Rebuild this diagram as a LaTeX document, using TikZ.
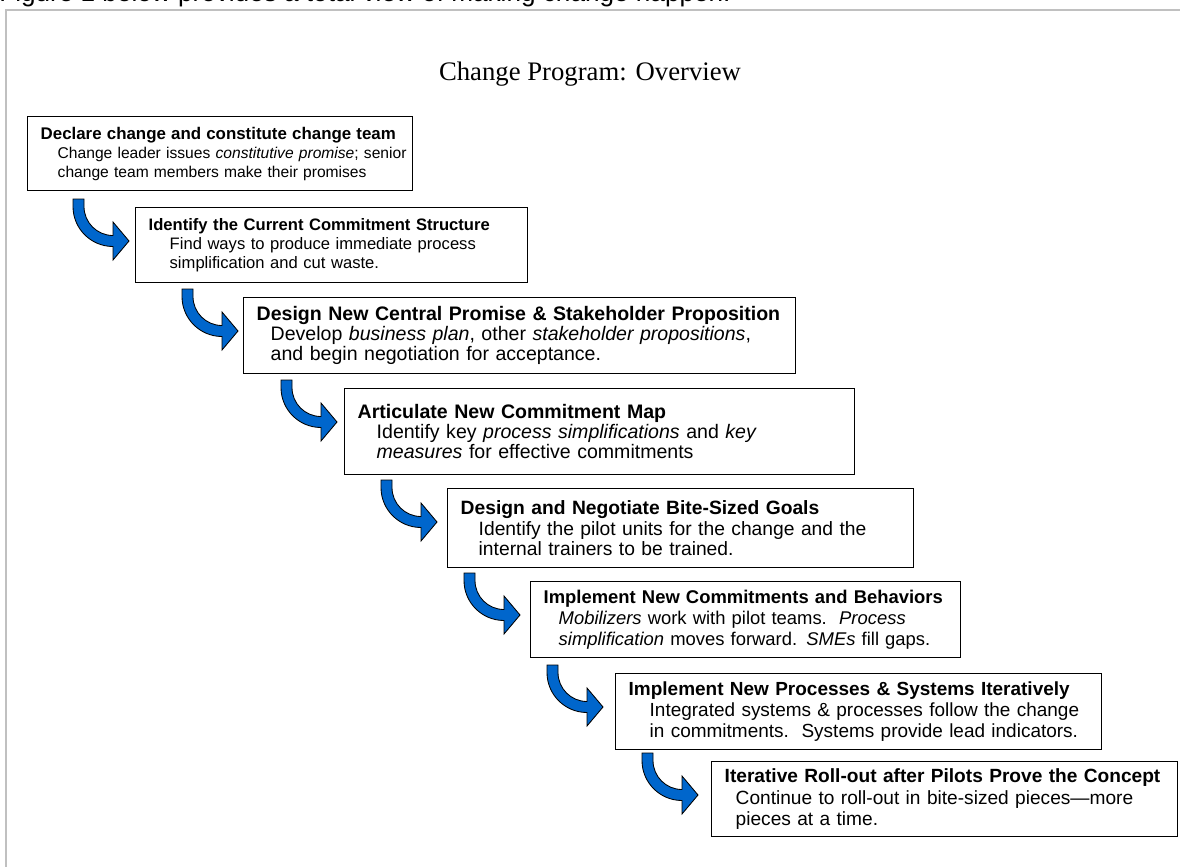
\documentclass[tikz,border=0pt]{standalone}
\usepackage{fontspec}
\setmainfont{Liberation Sans}
\newfontfamily\titlefont{Liberation Serif}
\usepackage{tikz}
\usetikzlibrary{calc}
\newlength{\pix}
\setlength{\pix}{0.025cm}
\definecolor{arrowblue}{RGB}{0,102,204}
\definecolor{framegray}{RGB}{192,192,192}
\newcommand{\indentby}[1]{\hspace*{#1\pix}}
\newcommand{\boxfont}[2]{\fontsize{#1}{#2}\selectfont}

\tikzset{
  stagebox/.style={draw, line width=1pt, anchor=north west, align=left,
    inner xsep=13\pix, inner ysep=0pt},
  bendarrow/.pic={
    \filldraw[fill=arrowblue, draw=black, line width=0.6pt]
      (-56,-42) -- (-56,-34.5) .. controls (-56,-12.4) and (-38.1,5.5) .. (-16,5.5)
      -- (-16,19) -- (0,0) -- (-16,-19) -- (-16,-5.5)
      .. controls (-32,-5.5) and (-45,-18.5) .. (-45,-34.5) -- (-45,-42) -- cycle;
  }
}

\begin{document}
\begin{tikzpicture}[x=\pix, y=-\pix]
\useasboundingbox (0,0) rectangle (1180,867);
\clip (0,0) rectangle (1180,867);
% page frame and running text
\draw[framegray, line width=2\pix] (6,900) -- (6,10) -- (1200,10);
\node[anchor=base west, inner sep=0pt, font=\boxfont{18.6}{20}] (intro) at (-1,2)
  {Figure 1 below provides a total view of making change happen.};
\node[anchor=base, inner sep=0pt, font=\titlefont\boxfont{19}{22}] (title) at (590,81)
  {Change Program: Overview};

% stages of the program
\node[stagebox, text width=359\pix, minimum height=74\pix, font=\boxfont{11.1}{13.5}] (s1) at (27,116)
  {{\boxfont{12}{13.5}\bfseries Declare change and constitute change team}\\
   \indentby{17}\mbox{Change leader issues \textit{constitutive promise}; senior}\\
   \indentby{17}\mbox{change team members make their promises}};
\node[stagebox, text width=366\pix, minimum height=75\pix, font=\boxfont{11.8}{13.8}] (s2) at (135,207)
  {\textbf{Identify the Current Commitment Structure}\\
   \indentby{21}\mbox{Find ways to produce immediate process}\\
   \indentby{21}\mbox{simplification and cut waste.}};
\node[stagebox, text width=526\pix, minimum height=76\pix, font=\boxfont{13.9}{14.2}] (s3) at (243,297)
  {\textbf{Design New Central Promise \& Stakeholder Proposition}\\
   \indentby{14}\mbox{Develop \textit{business plan}, other \textit{stakeholder propositions},}\\
   \indentby{14}\mbox{and begin negotiation for acceptance.}};
\node[stagebox, text width=484\pix, minimum height=86\pix, font=\boxfont{13.9}{14.2}] (s4) at (344,388)
  {\textbf{Articulate New Commitment Map}\\
   \indentby{19}\mbox{Identify key \textit{process simplifications} and \textit{key}}\\
   \indentby{19}\mbox{\textit{measures} for effective commitments}};
\node[stagebox, text width=440\pix, minimum height=79\pix, font=\boxfont{13.7}{14.5}] (s5) at (447,488)
  {\textbf{Design and Negotiate Bite-Sized Goals}\\
   \indentby{18}\mbox{Identify the pilot units for the change and the}\\
   \indentby{18}\mbox{internal trainers to be trained.}};
\node[stagebox, text width=404\pix, minimum height=76\pix, font=\boxfont{13.1}{14.9}] (s6) at (530,581)
  {\textbf{Implement New Commitments and Behaviors}\\
   \indentby{15}\mbox{\textit{Mobilizers} work with pilot teams.\ \ \textit{Process}}\\
   \indentby{15}\mbox{\textit{simplification} moves forward. \textit{SMEs} fill gaps.}};
\node[stagebox, text width=460\pix, minimum height=76\pix, font=\boxfont{13.5}{15.2}] (s7) at (615,673)
  {\textbf{Implement New Processes \& Systems Iteratively}\\
   \indentby{21}\mbox{Integrated systems \& processes follow the change}\\
   \indentby{21}\mbox{in commitments.\ \ Systems provide lead indicators.}};
\node[stagebox, text width=440\pix, minimum height=75\pix, font=\boxfont{13.6}{15.2}] (s8) at (711,761)
  {\mbox{\bfseries Iterative Roll-out after Pilots Prove the Concept}\\
   \indentby{11}\mbox{Continue to roll-out in bite-sized pieces\textemdash more}\\
   \indentby{11}\mbox{pieces at a time.}};

% bent arrows leading into each stage
\foreach \nxt/\off in {s2/6, s3/5, s4/7, s5/10, s6/10, s7/12, s8/13}
  \pic at ($(\nxt.north west)+(-\off,34)$) {bendarrow};
\end{tikzpicture}
\end{document}
